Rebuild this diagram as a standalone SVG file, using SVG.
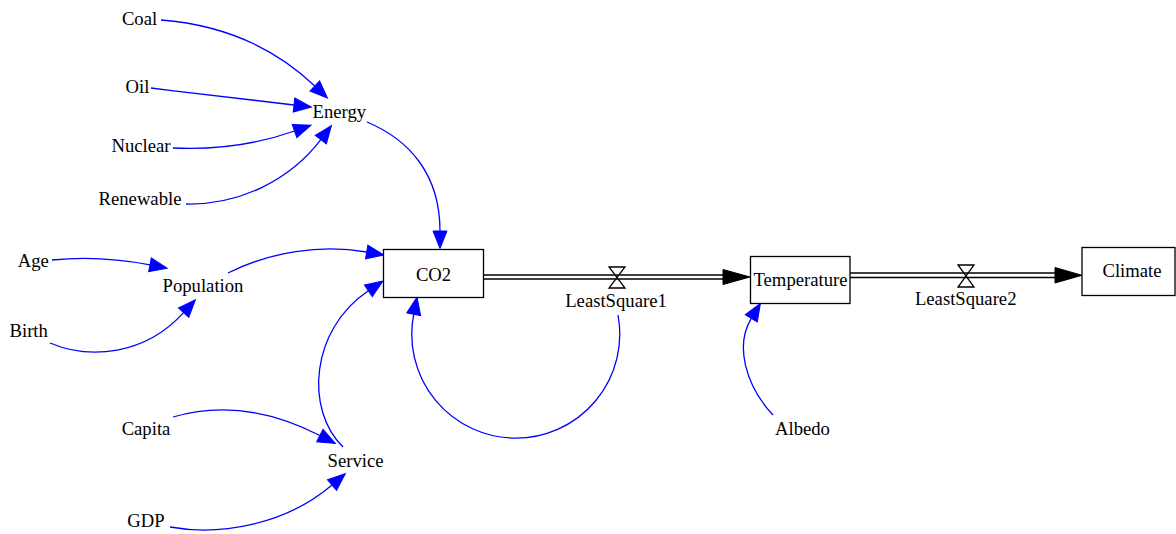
<svg xmlns="http://www.w3.org/2000/svg" width="1176" height="534" viewBox="0 0 1176 534">
<defs>
<style>
text{font-family:"Liberation Serif","Times New Roman",serif;font-size:18.67px;fill:#000;text-anchor:middle}
.box{fill:#fff;stroke:#000;stroke-width:1.3}
.link{fill:none;stroke:#0000ff;stroke-width:1.3;marker-end:url(#ba)}
.pipe{fill:none;stroke:#000;stroke-width:1.3}
.valve{fill:none;stroke:#000;stroke-width:1.3}
.flowhead{fill:#000;stroke:#000;stroke-width:1}
</style>
<marker id="ba" markerUnits="userSpaceOnUse" orient="auto" markerWidth="20" markerHeight="16" refX="0" refY="7" viewBox="0 0 20 14" overflow="visible">
<path d="M0,0 L17.5,7 L0,14 z" fill="#0000ff" stroke="#0000ff" stroke-width="1"/>
</marker>
</defs>
<rect width="1176" height="534" fill="#fff"/>

<g id="connectors">
<path class="link" d="M161,20 C225,25 275,48 314.8,86"/>
<path class="link" d="M151,88 C200,94 250,100 294,105"/>
<path class="link" d="M173,148 C215,150 255,145 294.5,131"/>
<path class="link" d="M186,204 C240,205 290,180 320.8,139.6"/>
<path class="link" d="M367,122 C410,140 440,175 440,231"/>
<path class="link" d="M52,260 C80,257 115,258 150,264.8"/>
<path class="link" d="M50,343 C90,360 145,355 183.6,312.6"/>
<path class="link" d="M228,273 C270,252 320,244 366.7,252"/>
<path class="link" d="M343,447 C305,410 310,330 368.4,290.8"/>
<path class="link" d="M173,417 C220,403 270,410 319.8,435.5"/>
<path class="link" d="M170,527 C220,536 285,525 332,485"/>
<path class="link" d="M618,315 A104,104 0 1 1 413.7,314.2"/>
<path class="link" d="M773,415 C745,385 735,345 751.3,318.3"/>

<g id="flow1">
<line class="pipe" x1="483" y1="275" x2="724" y2="275"/>
<line class="pipe" x1="483" y1="279" x2="724" y2="279"/>
<path class="flowhead" d="M723,269.5 L750,277 L723,284.5 z"/>
<path class="valve" d="M609,267 L625,267 L609,288 L625,288 z"/>
</g>
<g id="flow2">
<line class="pipe" x1="850" y1="273" x2="1056" y2="273"/>
<line class="pipe" x1="850" y1="277.5" x2="1056" y2="277.5"/>
<path class="flowhead" d="M1055,267.5 L1082,275.3 L1055,283 z"/>
<path class="valve" d="M958,265 L974,265 L958,287 L974,287 z"/>
</g>
</g>

<g id="CO2"><rect class="box" x="383.5" y="249.5" width="100" height="48"/><text x="433.5" y="281">CO2</text></g>
<g id="Temperature"><rect class="box" x="750.5" y="256.5" width="99.5" height="47"/><text x="800.5" y="285.7">Temperature</text></g>
<g id="Climate"><rect class="box" x="1082" y="247.5" width="93" height="48"/><text x="1132" y="277">Climate</text></g>

<g id="LeastSquare1"><text x="616" y="306.7">LeastSquare1</text></g>
<g id="LeastSquare2"><text x="965.7" y="305">LeastSquare2</text></g>
<g id="Coal"><text x="139.5" y="25">Coal</text></g>
<g id="Oil"><text x="137.5" y="93">Oil</text></g>
<g id="Energy"><text x="339.3" y="118">Energy</text></g>
<g id="Nuclear"><text x="141" y="151.7">Nuclear</text></g>
<g id="Renewable"><text x="140" y="205">Renewable</text></g>
<g id="Age"><text x="33.3" y="266.7">Age</text></g>
<g id="Population"><text x="203" y="291.7">Population</text></g>
<g id="Birth"><text x="28.7" y="337.3">Birth</text></g>
<g id="Capita"><text x="146" y="435">Capita</text></g>
<g id="Service"><text x="355.5" y="466.7">Service</text></g>
<g id="GDP"><text x="146" y="526.7">GDP</text></g>
<g id="Albedo"><text x="802.5" y="435">Albedo</text></g>
</svg>
